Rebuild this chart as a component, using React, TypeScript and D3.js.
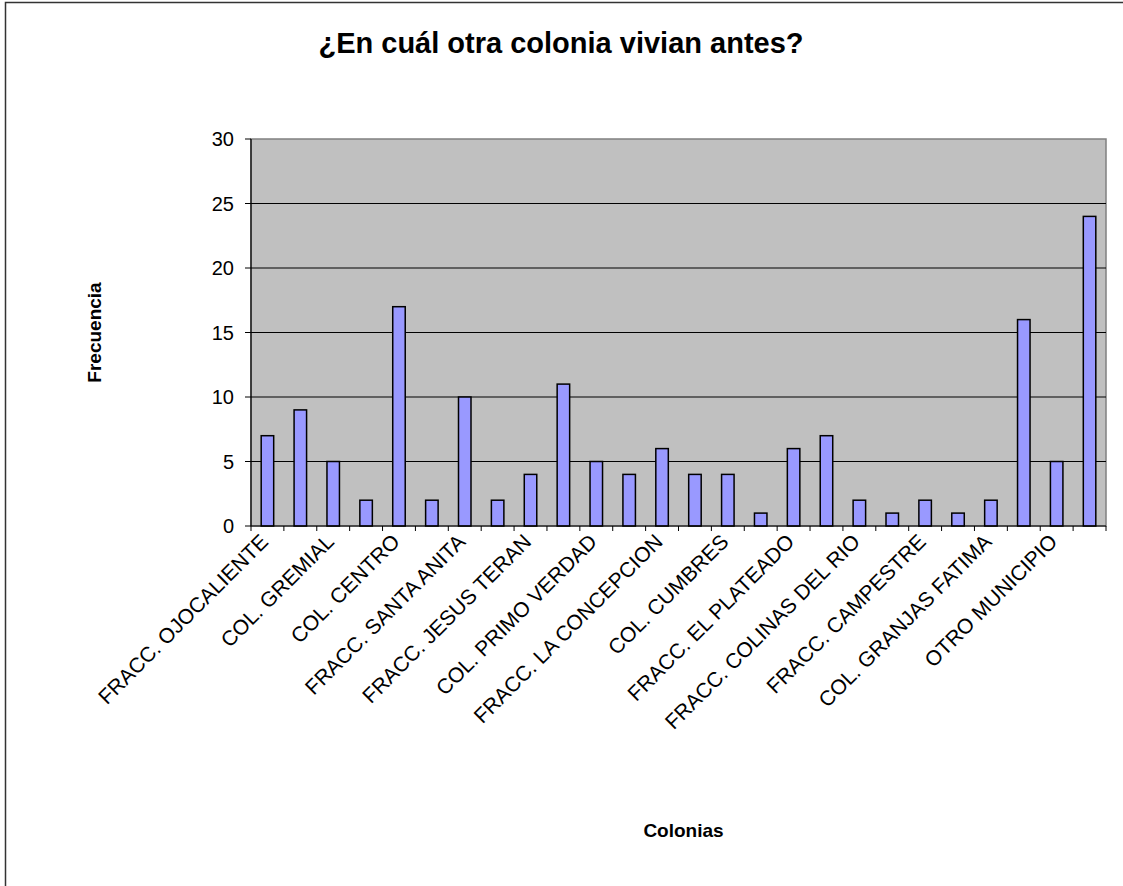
import { useEffect, useRef } from "react";
import * as d3 from "d3";

// categories (every other one is labelled on the axis, as in the original)
const colonias = [
  "FRACC. OJOCALIENTE",
  "COLONIA 2",
  "COL. GREMIAL",
  "COLONIA 4",
  "COL. CENTRO",
  "COLONIA 6",
  "FRACC. SANTA ANITA",
  "COLONIA 8",
  "FRACC. JESUS TERAN",
  "COLONIA 10",
  "COL. PRIMO VERDAD",
  "COLONIA 12",
  "FRACC. LA CONCEPCION",
  "COLONIA 14",
  "COL. CUMBRES",
  "COLONIA 16",
  "FRACC. EL PLATEADO",
  "COLONIA 18",
  "FRACC. COLINAS DEL RIO",
  "COLONIA 20",
  "FRACC. CAMPESTRE",
  "COLONIA 22",
  "COL. GRANJAS FATIMA",
  "COLONIA 24",
  "OTRO MUNICIPIO",
  "COLONIA 26",
];

const frecuencia = [7, 9, 5, 2, 17, 2, 10, 2, 4, 11, 5, 4, 6, 4, 4, 1, 6, 7, 2, 1, 2, 1, 2, 16, 5, 24];

const yTicks = [0, 5, 10, 15, 20, 25, 30];

const W = 1123;
const H = 886;
const FONT = "'Liberation Sans', Arial, sans-serif";

const Chart = () => {
  const svgRef = useRef<SVGSVGElement>(null);

  useEffect(() => {
    const svg = d3.select(svgRef.current).attr("width", W).attr("height", H);
    svg.selectAll("*").remove();

    const plot = { left: 251, right: 1106, top: 139, bottom: 526 };

    const x = d3
      .scaleBand()
      .domain(colonias)
      .range([plot.left, plot.right])
      .paddingInner(0.62)
      .paddingOuter(0.31);

    const y = d3.scaleLinear().domain([0, 30]).range([plot.bottom, plot.top]);

    // outer frame of the chart
    svg
      .append("rect")
      .attr("x", 5.5)
      .attr("y", 2.5)
      .attr("width", W + 20)
      .attr("height", H + 20)
      .attr("fill", "#fff")
      .attr("stroke", "#333")
      .attr("stroke-width", 1.5);

    // plot area
    svg
      .append("rect")
      .attr("x", plot.left)
      .attr("y", plot.top)
      .attr("width", plot.right - plot.left)
      .attr("height", plot.bottom - plot.top)
      .attr("fill", "#c0c0c0")
      .attr("stroke", "#808080")
      .attr("stroke-width", 1.5);

    // gridlines
    svg
      .append("g")
      .selectAll("line")
      .data(yTicks.filter((d) => d > 0 && d < 30))
      .join("line")
      .attr("x1", plot.left)
      .attr("x2", plot.right)
      .attr("y1", (d) => y(d))
      .attr("y2", (d) => y(d))
      .attr("stroke", "#000")
      .attr("stroke-width", 1);

    // bars
    svg
      .append("g")
      .selectAll("rect")
      .data(frecuencia)
      .join("rect")
      .attr("x", (d, i) => x(colonias[i])!)
      .attr("y", (d) => y(d))
      .attr("width", x.bandwidth())
      .attr("height", (d) => y(0) - y(d))
      .attr("fill", "#9999ff")
      .attr("stroke", "#000")
      .attr("stroke-width", 1.5);

    // y axis
    const yAxis = svg.append("g");
    yAxis
      .append("line")
      .attr("x1", plot.left)
      .attr("x2", plot.left)
      .attr("y1", plot.top)
      .attr("y2", plot.bottom)
      .attr("stroke", "#000")
      .attr("stroke-width", 1.2);
    yAxis
      .selectAll("line.tick")
      .data(yTicks)
      .join("line")
      .attr("class", "tick")
      .attr("x1", plot.left - 6)
      .attr("x2", plot.left)
      .attr("y1", (d) => y(d))
      .attr("y2", (d) => y(d))
      .attr("stroke", "#000");
    yAxis
      .selectAll("text")
      .data(yTicks)
      .join("text")
      .attr("x", 234)
      .attr("y", (d) => y(d))
      .attr("dy", "0.36em")
      .attr("text-anchor", "end")
      .attr("font-family", FONT)
      .attr("font-size", 20)
      .text((d) => d);

    // x axis
    const xAxis = svg.append("g");
    xAxis
      .append("line")
      .attr("x1", plot.left)
      .attr("x2", plot.right)
      .attr("y1", plot.bottom)
      .attr("y2", plot.bottom)
      .attr("stroke", "#000")
      .attr("stroke-width", 1.2);
    const step = x.step();
    xAxis
      .selectAll("line.tick")
      .data(d3.range(colonias.length + 1))
      .join("line")
      .attr("class", "tick")
      .attr("x1", (i) => plot.left + i * step)
      .attr("x2", (i) => plot.left + i * step)
      .attr("y1", plot.bottom)
      .attr("y2", plot.bottom + 5)
      .attr("stroke", "#000");

    // rotated category labels, only every other category
    svg
      .append("g")
      .selectAll("text")
      .data(colonias.filter((d, i) => i % 2 === 0))
      .join("text")
      .attr(
        "transform",
        (d) => `translate(${x(d)! + x.bandwidth() / 2 + 2},${plot.bottom + 17}) rotate(-45)`
      )
      .attr("text-anchor", "end")
      .attr("font-family", FONT)
      .attr("font-size", 21)
      .text((d) => d);

    // titles
    svg
      .append("text")
      .attr("x", 561)
      .attr("y", 53)
      .attr("text-anchor", "middle")
      .attr("font-family", FONT)
      .attr("font-weight", "bold")
      .attr("font-size", 29)
      .text("¿En cuál otra colonia vivian antes?");

    svg
      .append("text")
      .attr("transform", `translate(101,${(plot.top + plot.bottom) / 2}) rotate(-90)`)
      .attr("text-anchor", "middle")
      .attr("font-family", FONT)
      .attr("font-weight", "bold")
      .attr("font-size", 19)
      .text("Frecuencia");

    svg
      .append("text")
      .attr("x", (plot.left + plot.right) / 2 + 5)
      .attr("y", 837)
      .attr("text-anchor", "middle")
      .attr("font-family", FONT)
      .attr("font-weight", "bold")
      .attr("font-size", 19)
      .text("Colonias");
  }, []);

  return <svg ref={svgRef} style={{ position: "absolute", left: 0, top: 0, display: "block" }}></svg>;
};

export default function App() {
  return <Chart />;
}
